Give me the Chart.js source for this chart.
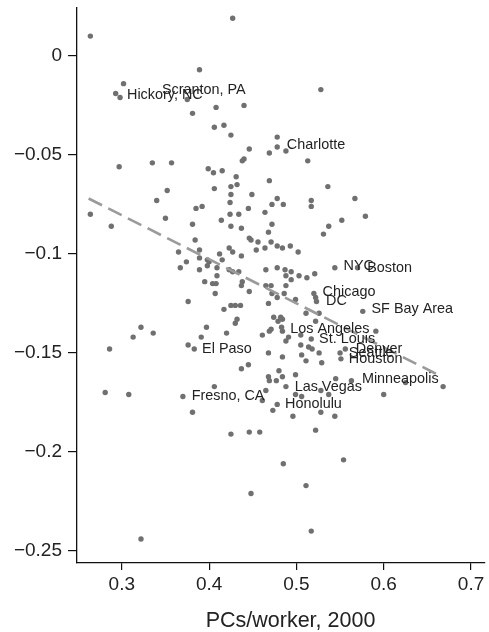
<!DOCTYPE html>
<html>
<head>
<meta charset="utf-8">
<script src="https://cdn.jsdelivr.net/npm/chart.js@4.4.0/dist/chart.umd.min.js"></script>
<style>
  html, body { margin: 0; padding: 0; background: #fff; }
  #wrap { width: 489px; height: 632px; position: relative; }
</style>
</head>
<body>
<div id="wrap"><canvas id="c"></canvas></div>
<script>
// ---- Data ----
const pointX = [
  0.264,0.427,0.389,0.302,0.293,0.298,0.375,0.408,0.440,0.381,0.406,0.417,0.425,0.446,0.478,0.478,0.528,
  0.440,0.438,0.469,0.297,0.335,0.357,0.399,0.405,0.415,0.431,0.425,0.432,0.469,0.406,0.352,0.425,0.449,
  0.340,0.424,0.472,0.478,0.385,0.392,0.445,0.264,0.424,0.434,0.464,0.350,0.414,0.472,0.288,0.381,0.425,
  0.437,0.468,0.384,0.446,0.448,0.456,0.471,0.478,0.454,0.464,0.365,0.389,0.412,0.423,0.427,0.389,0.437,
  0.374,0.398,0.400,0.415,0.398,0.367,0.389,0.409,0.423,0.427,0.434,0.465,0.478,0.409,0.488,0.513,0.536,
  0.485,0.517,0.517,0.567,0.579,0.552,0.537,0.531,0.484,0.493,0.502,0.544,0.570,0.487,0.494,0.503,0.512,
  0.521,0.488,0.395,0.404,0.408,0.407,0.438,0.437,0.446,0.465,0.471,0.472,0.478,0.376,0.417,0.425,0.430,
  0.436,0.468,0.474,0.479,0.322,0.313,0.336,0.397,0.391,0.420,0.430,0.432,0.461,0.469,0.471,0.286,0.376,
  0.383,0.468,0.437,0.445,0.469,0.468,0.477,0.406,0.281,0.308,0.370,0.465,0.461,0.478,0.494,0.488,0.486,
  0.520,0.522,0.523,0.499,0.576,0.511,0.526,0.482,0.484,0.484,0.483,0.522,0.591,0.491,0.488,0.505,0.517,
  0.505,0.514,0.518,0.526,0.556,0.550,0.551,0.484,0.506,0.511,0.529,0.480,0.484,0.499,0.545,0.563,0.625,
  0.668,0.488,0.528,0.537,0.600,0.499,0.506,0.381,0.425,0.446,0.458,0.473,0.448,0.322,0.496,0.528,0.544,
  0.522,0.485,0.554,0.511,0.517
];
const pointY = [
  0.010,0.019,-0.007,-0.014,-0.019,-0.021,-0.022,-0.026,-0.025,-0.029,-0.036,-0.035,-0.040,-0.047,-0.041,-0.046,-0.017,
  -0.052,-0.053,-0.049,-0.056,-0.054,-0.054,-0.057,-0.059,-0.058,-0.061,-0.066,-0.065,-0.063,-0.067,-0.068,-0.070,-0.070,
  -0.073,-0.074,-0.075,-0.072,-0.077,-0.076,-0.077,-0.080,-0.080,-0.080,-0.079,-0.082,-0.083,-0.085,-0.086,-0.085,-0.086,
  -0.087,-0.089,-0.093,-0.092,-0.093,-0.094,-0.094,-0.096,-0.098,-0.097,-0.099,-0.098,-0.100,-0.097,-0.099,-0.102,-0.101,
  -0.104,-0.103,-0.104,-0.103,-0.106,-0.107,-0.108,-0.107,-0.108,-0.109,-0.109,-0.108,-0.107,-0.111,-0.048,-0.053,-0.066,
  -0.075,-0.073,-0.076,-0.072,-0.081,-0.083,-0.086,-0.090,-0.097,-0.096,-0.099,-0.107,-0.107,-0.108,-0.109,-0.111,-0.112,
  -0.110,-0.111,-0.114,-0.115,-0.115,-0.120,-0.114,-0.116,-0.119,-0.116,-0.116,-0.120,-0.122,-0.124,-0.128,-0.126,-0.126,
  -0.126,-0.125,-0.132,-0.134,-0.137,-0.142,-0.140,-0.137,-0.142,-0.140,-0.135,-0.133,-0.141,-0.139,-0.138,-0.148,-0.146,
  -0.148,-0.150,-0.158,-0.156,-0.164,-0.162,-0.164,-0.167,-0.170,-0.171,-0.172,-0.169,-0.174,-0.176,-0.113,-0.116,-0.120,
  -0.120,-0.122,-0.124,-0.123,-0.129,-0.130,-0.130,-0.132,-0.133,-0.139,-0.137,-0.134,-0.139,-0.142,-0.144,-0.141,-0.143,
  -0.146,-0.147,-0.148,-0.150,-0.148,-0.150,-0.153,-0.152,-0.151,-0.154,-0.155,-0.159,-0.162,-0.161,-0.163,-0.164,-0.165,
  -0.167,-0.167,-0.169,-0.171,-0.171,-0.171,-0.172,-0.180,-0.191,-0.190,-0.190,-0.179,-0.221,-0.244,-0.182,-0.180,-0.182,
  -0.189,-0.206,-0.204,-0.217,-0.240
];

// Labelled metro areas (text anchor: left edge, vertical middle)
const cityNames = ["Hickory, NC","Scranton, PA","Charlotte","NYC","Boston","Chicago","DC","SF Bay Area",
  "Los Angeles","St. Louis","Denver","Seattle","Houston","Minneapolis","Las Vegas","Honolulu","El Paso","Fresno, CA"];
const cityX = [0.306,0.346,0.489,0.554,0.581,0.530,0.534,0.586,0.493,0.526,0.568,0.560,0.560,0.575,0.498,0.487,0.392,0.380];
const cityY = [-0.020,-0.017,-0.045,-0.106,-0.107,-0.119,-0.124,-0.128,-0.138,-0.143,-0.148,-0.150,-0.153,-0.163,-0.167,-0.176,-0.148,-0.172];

// Fitted line end points
const fitX = [0.262, 0.662];
const fitY = [-0.072, -0.161];

// Axis ticks
const xTicks = [0.3, 0.4, 0.5, 0.6, 0.7];
const xTickLabels = ["0.3", "0.4", "0.5", "0.6", "0.7"];
const yTicks = [0, -0.05, -0.1, -0.15, -0.2, -0.25];
const yTickLabels = ["0", "\u22120.05", "\u22120.1", "\u22120.15", "\u22120.2", "\u22120.25"];
const xTitle = "PCs/worker, 2000";

// ---- Chart ----
const FONT = "'Liberation Sans', Arial, Helvetica, sans-serif";

const cityLabels = {
  id: 'cityLabels',
  afterDatasetsDraw(chart) {
    const ctx = chart.ctx;
    const xs = chart.scales.x, ys = chart.scales.y;
    ctx.save();
    ctx.font = "14.4px " + FONT;
    ctx.fillStyle = "#222";
    ctx.textAlign = "left";
    ctx.textBaseline = "middle";
    cityNames.forEach((n, i) => {
      ctx.fillText(n, xs.getPixelForValue(cityX[i]), ys.getPixelForValue(cityY[i]));
    });
    ctx.restore();
  },
  afterDraw(chart) {
    // x-axis title, placed slightly right of the plot centre as in the reference
    const ctx = chart.ctx;
    const xs = chart.scales.x;
    ctx.save();
    ctx.font = "21.5px " + FONT;
    ctx.fillStyle = "#222";
    ctx.textAlign = "center";
    ctx.textBaseline = "alphabetic";
    ctx.fillText(xTitle, (xs.left + xs.right) / 2 + 9.5, xs.bottom - 4.7);
    ctx.restore();
  }
};

function labelFor(ticks, labels, v) {
  for (let i = 0; i < ticks.length; i++) if (Math.abs(ticks[i] - v) < 1e-9) return labels[i];
  return "";
}

new Chart(document.getElementById('c'), {
  data: {
    datasets: [
      {
        type: 'line',
        data: fitX.map((x, i) => ({ x, y: fitY[i] })),
        borderColor: '#9b9b9b',
        borderWidth: 2.6,
        borderDash: [15, 7],
        pointRadius: 0,
        fill: false,
        order: 0
      },
      {
        type: 'scatter',
        data: pointX.map((x, i) => ({ x, y: pointY[i] })),
        backgroundColor: '#707070',
        borderWidth: 0,
        pointRadius: 2.7,
        order: 1
      }
    ]
  },
  options: {
    responsive: true,
    maintainAspectRatio: false,
    animation: false,
    events: [],
    layout: { padding: { top: 8, right: 2, left: 0, bottom: 0 } },
    plugins: { legend: { display: false }, tooltip: { enabled: false } },
    scales: {
      x: {
        type: 'linear',
        position: 'bottom',
        min: 0.2487,
        max: 0.716,
        afterBuildTicks: s => { s.ticks = xTicks.map(v => ({ value: v })); },
        afterFit: s => { s.height = 69; s.paddingLeft = 0; s.paddingRight = 0; },
        ticks: {
          callback: v => labelFor(xTicks, xTickLabels, v),
          font: { family: FONT, size: 19 },
          color: '#222',
          padding: 3,
          maxRotation: 0,
          autoSkip: false
        },
        grid: { display: true, drawOnChartArea: false, drawTicks: true, tickLength: 7, color: '#111', lineWidth: 1.2 },
        border: { display: true, color: '#111', width: 1.3 },
        title: { display: false }
      },
      y: {
        type: 'linear',
        position: 'left',
        min: -0.2561,
        max: 0.0242,
        afterBuildTicks: s => { s.ticks = yTicks.slice().reverse().map(v => ({ value: v })); },
        afterFit: s => { s.width = 77; s.paddingTop = 0; s.paddingBottom = 0; },
        ticks: {
          callback: v => labelFor(yTicks, yTickLabels, v),
          font: { family: FONT, size: 19 },
          color: '#222',
          padding: 6,
          crossAlign: 'near',
          autoSkip: false
        },
        grid: { display: true, drawOnChartArea: false, drawTicks: true, tickLength: 9, color: '#111', lineWidth: 1.2 },
        border: { display: true, color: '#111', width: 1.3 }
      }
    }
  },
  plugins: [cityLabels]
});
</script>
</body>
</html>
